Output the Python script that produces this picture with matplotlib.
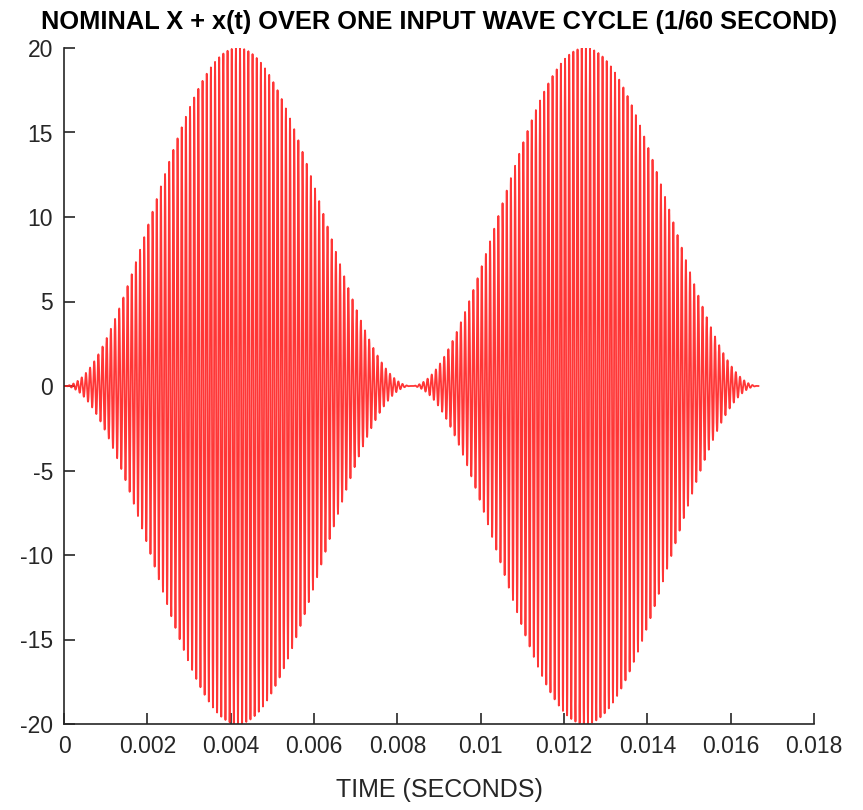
import numpy as np
import matplotlib
matplotlib.use("Agg")
import matplotlib.pyplot as plt
import matplotlib.ticker as mtick

# signal parameters
peak_amplitude = 20.0        # envelope peak
input_freq = 60.0            # one input wave cycle = 1/60 s
carrier_freq = 10000.0       # ~4 px between carrier lines -> 1e-4 s period
sample_rate = 1.0e6

x_ticks = [0, 0.002, 0.004, 0.006, 0.008, 0.01, 0.012, 0.014, 0.016, 0.018]
y_ticks = [-20, -15, -10, -5, 0, 5, 10, 15, 20]

t = np.arange(0, 1 / input_freq, 1 / sample_rate)
x = peak_amplitude * np.sin(2 * np.pi * input_freq * t) ** 2 * np.sin(2 * np.pi * carrier_freq * t)

plt.rcParams['font.family'] = ['Liberation Sans', 'DejaVu Sans']
plt.rcParams['axes.unicode_minus'] = False
axis_col = '#262626'

fig = plt.figure(figsize=(8.63, 8.10), dpi=100)
ax = fig.add_axes([64 / 863, 1 - 724 / 810, 750 / 863, 676 / 810])
ax.plot(t, x, color='#ff2020', linewidth=1.3, alpha=0.9)

ax.set_xlim(0, 0.018)
ax.set_ylim(-20, 20)
ax.set_xticks(x_ticks)
ax.set_yticks(y_ticks)
ax.xaxis.set_major_formatter(mtick.FormatStrFormatter('%g'))
ax.spines['top'].set_visible(False)
ax.spines['right'].set_visible(False)
for s in ['left', 'bottom']:
    ax.spines[s].set_color(axis_col)
    ax.spines[s].set_linewidth(1.2)
ax.tick_params(direction='in', length=8, width=1.2, color=axis_col,
               labelcolor=axis_col, labelsize=16.5, pad=8)

ax.set_title('NOMINAL X + x(t) OVER ONE INPUT WAVE CYCLE (1/60 SECOND)',
             fontsize=18.3, fontweight='bold', pad=14)
ax.set_xlabel('TIME (SECONDS)', fontsize=18, color=axis_col, labelpad=14)

fig.savefig('out.png', dpi=100)
